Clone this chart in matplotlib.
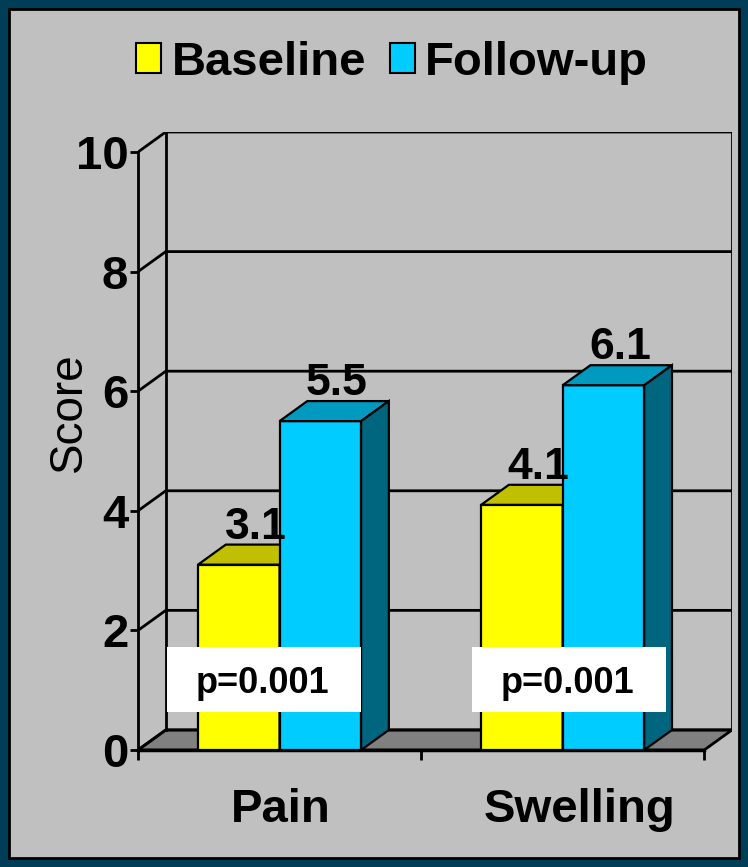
import numpy as np
import matplotlib.pyplot as plt
from matplotlib.patches import Rectangle, Patch

# chart data
categories = ['Pain', 'Swelling']
baseline = [3.1, 4.1]
follow_up = [5.5, 6.1]
series_names = ['Baseline', 'Follow-up']
p_labels = ['p=0.001', 'p=0.001']
y_ticks = [0, 2, 4, 6, 8, 10]

plt.rcParams['font.family'] = ['Liberation Sans', 'DejaVu Sans']

# pseudo 3d look (depth in data units)
DX, DY = 0.098, 0.335
W = 0.288
YMAX = 10
n = len(categories)
label_shift = [0.005, 0.06]   # category labels sit a bit off-centre in the original

fig = plt.figure(figsize=(7.48, 8.67), dpi=100)
fig.patch.set_facecolor('#003D56')
fig.add_artist(Rectangle((9 / 748, 9 / 867), 1 - 18 / 748, 1 - 18 / 867,
                         transform=fig.transFigure, facecolor='#C0C0C0',
                         edgecolor='black', lw=2, zorder=0))

ax = fig.add_axes([138 / 748, 1 - 750 / 867, 594 / 748, 618 / 867])
ax.set_facecolor('none')
ax.set_xlim(0, n + DX)
ax.set_ylim(0, YMAX + DY)

# floor
ax.fill([0, n, n + DX, DX], [0, 0, DY, DY], fc='#808080', ec='black', lw=2, zorder=1)
# walls + gridlines
for t in y_ticks:
    ax.plot([0, DX, n + DX], [t, t + DY, t + DY], color='black', lw=2, zorder=1)
ax.plot([DX, DX], [DY, YMAX + DY], color='black', lw=2, zorder=1)
ax.plot([n + DX, n + DX], [DY, YMAX + DY], color='black', lw=2, zorder=1)

# bars
x = np.arange(n) + 0.5
styles = [('#FFFF00', '#C0C000', '#808000'), ('#00CCFF', '#0099C0', '#00667F')]
for k, (vals, (fc, tc, sc)) in enumerate(zip([baseline, follow_up], styles)):
    lefts = x - W + k * W
    ax.bar(lefts, vals, W, align='edge', color=fc, edgecolor='black', lw=1.6, zorder=3 + k)
    for x0, v in zip(lefts, vals):
        x1 = x0 + W
        ax.fill([x0, x1, x1 + DX, x0 + DX], [v, v, v + DY, v + DY],
                fc=tc, ec='black', lw=1.6, zorder=3 + k)
        ax.fill([x1, x1 + DX, x1 + DX, x1], [0, DY, v + DY, v],
                fc=sc, ec='black', lw=1.6, zorder=3 + k)
        ax.text(x0 + W / 2 + DX / 2 + 0.01, v + DY + 0.1, f'{v:.1f}', ha='center',
                va='baseline', fontsize=32, fontweight='bold', zorder=6)

# p-value boxes
box_x = [0.445, 1.521]
bw, bh = 0.686, 1.087
for cx, lab in zip(box_x, p_labels):
    ax.add_patch(Rectangle((cx - bw / 2, 1.18 - bh / 2), bw, bh, fc='white', ec='none', zorder=7))
    ax.text(cx - 0.005, 0.953, lab, ha='center', va='baseline', fontsize=26,
            fontweight='bold', zorder=8)

# axes
for s in ['top', 'right']:
    ax.spines[s].set_visible(False)
ax.spines['left'].set_bounds(0, YMAX)
ax.spines['bottom'].set_bounds(0, n)
ax.spines['left'].set_linewidth(2)
ax.spines['bottom'].set_linewidth(2.5)

ax.set_yticks(y_ticks)
ax.set_yticklabels([str(t) for t in y_ticks], fontsize=34, fontweight='bold')
ax.tick_params(axis='y', length=6, width=2, pad=1)

ax.set_xticks(np.arange(n + 1))
ax.set_xticklabels([])
ax.tick_params(axis='x', which='major', length=7, width=2)
ax.set_xticks(x + np.array(label_shift), minor=True)
ax.set_xticklabels(categories, minor=True, fontsize=34, fontweight='bold')
ax.tick_params(axis='x', which='minor', length=0, pad=27)

fig.text(69 / 748, 1 - 412 / 867, 'Score', rotation=90, ha='center', va='center', fontsize=33)

handles = [Patch(fc=c[0], ec='black', lw=1.5, label=nm) for c, nm in zip(styles, series_names)]
fig.legend(handles=handles, loc='center', bbox_to_anchor=(392 / 748, 1 - 63 / 867), ncol=2,
           frameon=False, prop={'size': 34, 'weight': 'bold'}, handlelength=0.53,
           handleheight=0.6, handletextpad=0.22, columnspacing=0.5,
           borderaxespad=0, borderpad=0)

fig.savefig('out.png', dpi=100, facecolor=fig.get_facecolor())
